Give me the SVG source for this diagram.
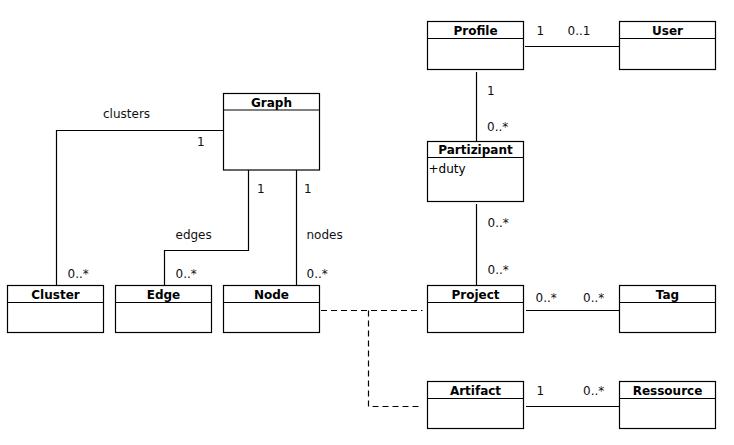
<svg xmlns="http://www.w3.org/2000/svg" width="734" height="445" viewBox="0 0 734 445">
<style>
.box{fill:#fff;stroke:#000;stroke-width:1.2}
.sep{stroke:#000;stroke-width:1.2}
.title{font-family:"DejaVu Sans",Verdana,sans-serif;font-size:12px;font-weight:bold;text-anchor:middle;fill:#000}
.attr{font-family:"DejaVu Sans",Verdana,sans-serif;font-size:12px;fill:#000}
.lbl{font-family:"DejaVu Sans",Verdana,sans-serif;font-size:12px;fill:#111}
.conn{fill:none;stroke:#000;stroke-width:1.2}
.dash{fill:none;stroke:#000;stroke-width:1.2;stroke-dasharray:6 4}
</style>
<rect width="734" height="445" fill="#fff"/>
<g id="connectors">
<path class="conn" d="M223.5,130.5 H56.5 V285.5"/>
<path class="conn" d="M248.5,170 V250.5 H164.5 V285.5"/>
<path class="conn" d="M296.5,170 V285.5"/>
<path class="conn" d="M525,46.5 H619.5"/>
<path class="conn" d="M476.5,72 V141.5"/>
<path class="conn" d="M476.5,204 V285.5"/>
<path class="conn" d="M526,310.5 H619.5"/>
<path class="conn" d="M526,406.5 H619.5"/>
<path class="dash" d="M321,310.5 H422.5"/>
<path class="dash" d="M368.5,310.5 V406.5 H422.5"/>
<text class="lbl" x="103" y="118">clusters</text>
<text class="lbl" x="197" y="145.5">1</text>
<text class="lbl" x="67.5" y="277.5">0..*</text>
<text class="lbl" x="257" y="193">1</text>
<text class="lbl" x="175.5" y="239">edges</text>
<text class="lbl" x="175.5" y="277.5">0..*</text>
<text class="lbl" x="304" y="193">1</text>
<text class="lbl" x="306.5" y="239">nodes</text>
<text class="lbl" x="306.5" y="277.5">0..*</text>
<text class="lbl" x="536.5" y="35">1</text>
<text class="lbl" x="567.5" y="35">0..1</text>
<text class="lbl" x="487" y="95">1</text>
<text class="lbl" x="487" y="130.5">0..*</text>
<text class="lbl" x="487.5" y="226.5">0..*</text>
<text class="lbl" x="487.5" y="274">0..*</text>
<text class="lbl" x="535.5" y="301.5">0..*</text>
<text class="lbl" x="583" y="301.5">0..*</text>
<text class="lbl" x="536.5" y="395">1</text>
<text class="lbl" x="583" y="395">0..*</text>
</g>
<g id="Graph">
<rect class="box" x="223.5" y="93.5" width="96" height="76.5"/>
<line class="sep" x1="223.5" y1="110" x2="319.5" y2="110"/>
<text class="title" x="271.5" y="106.5">Graph</text>
</g>
<g id="Cluster">
<rect class="box" x="7.5" y="285.5" width="96" height="47"/>
<line class="sep" x1="7.5" y1="302.5" x2="103.5" y2="302.5"/>
<text class="title" x="55.5" y="298.5">Cluster</text>
</g>
<g id="Edge">
<rect class="box" x="115.5" y="285.5" width="96" height="47"/>
<line class="sep" x1="115.5" y1="302.5" x2="211.5" y2="302.5"/>
<text class="title" x="163.5" y="298.5">Edge</text>
</g>
<g id="Node">
<rect class="box" x="223.5" y="285.5" width="96" height="47"/>
<line class="sep" x1="223.5" y1="302.5" x2="319.5" y2="302.5"/>
<text class="title" x="271.5" y="298.5">Node</text>
</g>
<g id="Profile">
<rect class="box" x="427.5" y="21.5" width="96" height="48"/>
<line class="sep" x1="427.5" y1="38.5" x2="523.5" y2="38.5"/>
<text class="title" x="475.5" y="34.5">Profile</text>
</g>
<g id="User">
<rect class="box" x="619.5" y="21.5" width="96" height="48"/>
<line class="sep" x1="619.5" y1="38.5" x2="715.5" y2="38.5"/>
<text class="title" x="667.5" y="34.5">User</text>
</g>
<g id="Partizipant">
<rect class="box" x="427.5" y="141.5" width="96" height="60"/>
<line class="sep" x1="427.5" y1="157.5" x2="523.5" y2="157.5"/>
<text class="title" x="475.5" y="154">Partizipant</text>
<text class="attr" x="428.5" y="173">+duty</text>
</g>
<g id="Project">
<rect class="box" x="427.5" y="285.5" width="96" height="47"/>
<line class="sep" x1="427.5" y1="302.5" x2="523.5" y2="302.5"/>
<text class="title" x="475.5" y="298.5">Project</text>
</g>
<g id="Tag">
<rect class="box" x="619.5" y="285.5" width="96" height="47"/>
<line class="sep" x1="619.5" y1="302.5" x2="715.5" y2="302.5"/>
<text class="title" x="667.5" y="298.5">Tag</text>
</g>
<g id="Artifact">
<rect class="box" x="427.5" y="381.5" width="96" height="47"/>
<line class="sep" x1="427.5" y1="398.5" x2="523.5" y2="398.5"/>
<text class="title" x="475.5" y="394.5">Artifact</text>
</g>
<g id="Ressource">
<rect class="box" x="619.5" y="381.5" width="96" height="47"/>
<line class="sep" x1="619.5" y1="398.5" x2="715.5" y2="398.5"/>
<text class="title" x="667.5" y="394.5">Ressource</text>
</g>
</svg>
